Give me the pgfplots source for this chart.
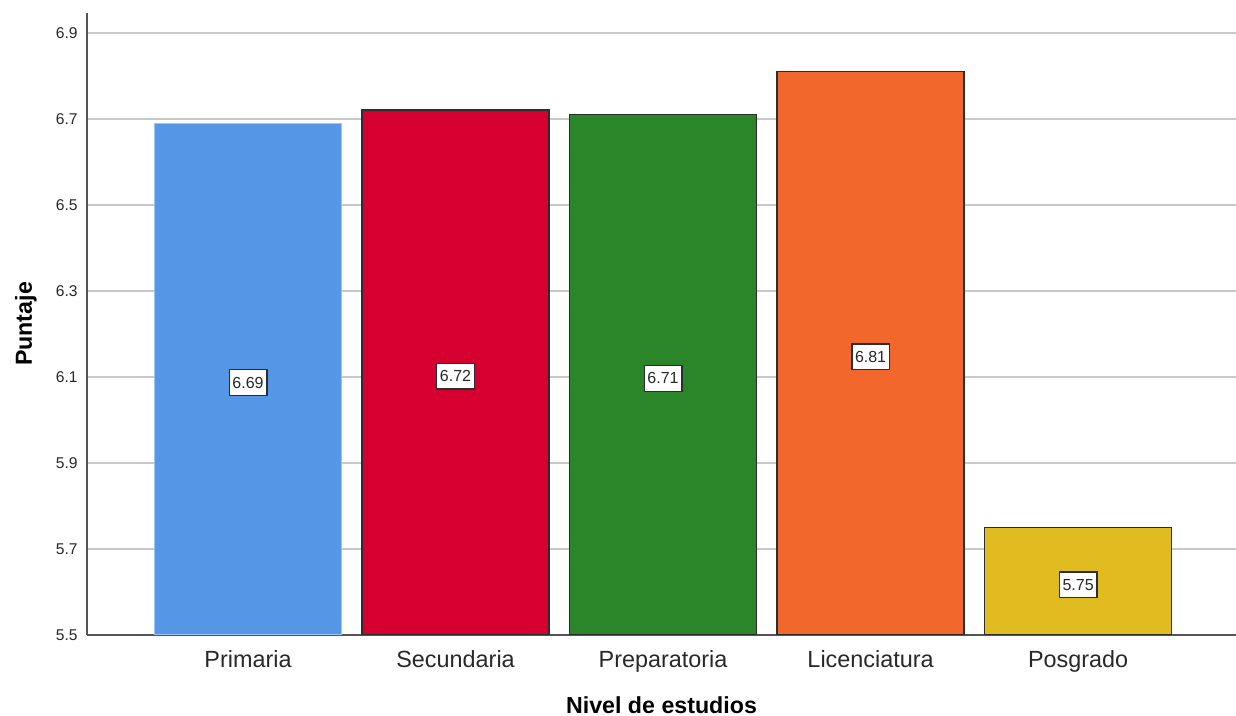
\documentclass[border=0pt]{standalone}
\usepackage{fontspec}
\setmainfont{Liberation Sans}
\usepackage{pgfplots}
\pgfplotsset{compat=1.18}

\definecolor{cPrimaria}{RGB}{85,150,230}
\definecolor{cPrimariaEdge}{RGB}{160,195,240}
\definecolor{cSecundaria}{RGB}{214,0,48}
\definecolor{cPreparatoria}{RGB}{42,134,41}
\definecolor{cLicenciatura}{RGB}{242,103,43}
\definecolor{cPosgrado}{RGB}{224,188,32}
\definecolor{gridgray}{RGB}{200,200,200}
\definecolor{axisgray}{RGB}{85,85,85}
\definecolor{edgegray}{RGB}{45,45,45}
\definecolor{txtgray}{RGB}{40,40,40}

\begin{document}
\begin{tikzpicture}
\begin{axis}[
  scale only axis,
  width=574.5pt, height=311pt,
  xmin=-0.776, xmax=4.761,
  ymin=5.5, ymax=6.946,
  axis x line*=bottom, axis y line*=left,
  axis line style={color=axisgray, line width=0.85pt},
  ymajorgrids,
  grid style={color=gridgray, line width=1pt},
  major tick length=0pt,
  ytick={5.5,5.7,5.9,6.1,6.3,6.5,6.7,6.9},
  yticklabel style={/pgf/number format/.cd, fixed, fixed zerofill, precision=1,
    /tikz/.cd, anchor=east, inner sep=0pt, xshift=-4.5pt,
    font=\fontsize{7.8}{9}\selectfont, text=txtgray},
  xtick={0,1,2,3,4},
  xticklabels={Primaria,Secundaria,Preparatoria,Licenciatura,Posgrado},
  xticklabel style={anchor=base, inner sep=0pt, yshift=-16.5pt,
    font=\fontsize{11.7}{13}\selectfont, text=txtgray},
  /pgf/number format/assume math mode=true,
  every axis x label/.style={at={(rel axis cs:0.5,0)}, anchor=base,
    yshift=-39.5pt, inner sep=0pt},
  every axis y label/.style={at={(rel axis cs:0,0.5)}, xshift=-27.5pt,
    rotate=90, anchor=base, inner sep=0pt},
  xlabel={Nivel de estudios},
  ylabel={Puntaje},
  label style={font=\bfseries\fontsize{11.6}{13}\selectfont, text=black},
  ybar, bar width=0.9, bar shift=0pt,
  every axis plot/.append style={line width=0.75pt, draw=edgegray},
  visualization depends on={rawy \as \ry},
  nodes near coords={\pgfmathprintnumber[fixed, fixed zerofill, precision=2]{\pgfplotspointmeta}},
  every node near coord/.append style={
    anchor=center,
    shift={(axis direction cs:0,{-(\ry-5.5)/2})}, yshift=-1.8pt,
    draw=edgegray, fill=white, line width=0.7pt,
    inner xsep=1.6pt, inner ysep=3.6pt,
    font=\fontsize{8}{9.6}\selectfont, text=txtgray},
]
% mean score by education level
\addplot[fill=cPrimaria, draw=cPrimariaEdge, line width=0.6pt] coordinates {(0,6.69)};
\addplot[fill=cSecundaria] coordinates {(1,6.72)};
\addplot[fill=cPreparatoria] coordinates {(2,6.71)};
\addplot[fill=cLicenciatura] coordinates {(3,6.81)};
\addplot[fill=cPosgrado] coordinates {(4,5.75)};
\end{axis}
\pgfresetboundingbox
\path[use as bounding box] (-43.5pt,-40.5pt) rectangle (574.5pt,317.5pt);
\end{tikzpicture}
\end{document}
